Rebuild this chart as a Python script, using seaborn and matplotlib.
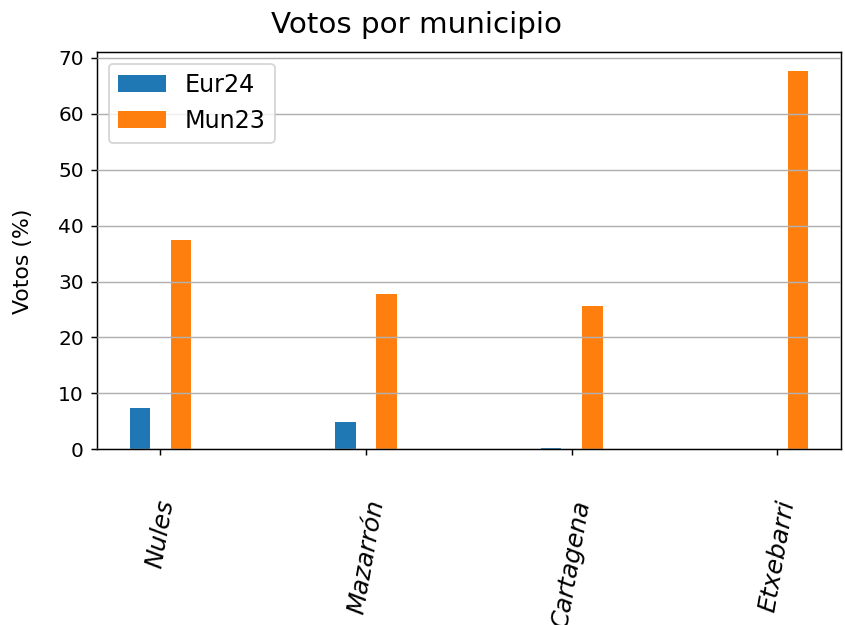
import matplotlib
matplotlib.use("Agg")
import matplotlib.pyplot as plt
import pandas as pd
import seaborn as sns

# valores
municipios = ["Nules", "Mazarrón", "Cartagena", "Etxebarri"]
eur24 = [7.3, 4.9, 0.3, 0.0]
mun23 = [37.5, 27.7, 25.7, 67.7]
series = ["Eur24", "Mun23"]
colores = ["#1f77b4", "#ff7f0e"]

df = pd.DataFrame({
    "municipio": municipios * 2,
    "serie": [series[0]] * len(eur24) + [series[1]] * len(mun23),
    "votos": eur24 + mun23,
})

fig = plt.figure(figsize=(845 / 132, 625 / 132), dpi=132)
ax = fig.add_axes([0.1144, 0.2811, 0.8809, 0.6362])

sns.barplot(data=df, x="municipio", y="votos", hue="serie", order=municipios,
            hue_order=series, palette=colores, width=0.4, gap=0.5,
            saturation=1, errorbar=None, linewidth=0, ax=ax)

ax.set_xlim(-0.31, 3.31)
ax.yaxis.grid(True)
ax.set_axisbelow(False)
ax.set_xlabel("")
ax.set_ylabel("Votos (%)", fontsize=12)
ax.yaxis.set_label_coords(-0.085, 0.472)
ax.tick_params(axis="y", labelsize=11)
ax.tick_params(axis="x", pad=23)
for lbl in ax.get_xticklabels():
    lbl.set_rotation(80)
    lbl.set_fontstyle("italic")
    lbl.set_fontsize(13.5)

sns.move_legend(ax, "upper left", title=None, fontsize=13)

fig.text(0.493, 1 - 33 / 625, "Votos por municipio", ha="center", va="baseline", fontsize=16)

fig.savefig("out.png", dpi=132)
